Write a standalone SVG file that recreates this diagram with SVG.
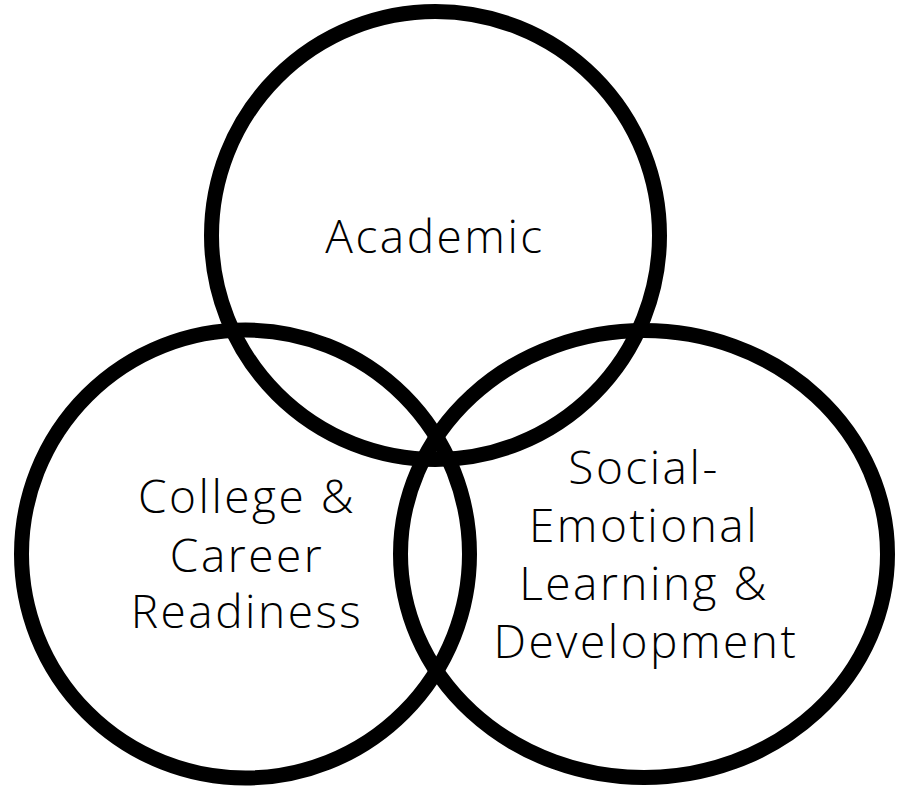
<svg xmlns="http://www.w3.org/2000/svg" width="903" height="787" viewBox="0 0 903 787">
<style>
.ring{fill:none;stroke:#000;stroke-width:15}
.lbl{font-family:"Open Sans","Liberation Sans",sans-serif;font-weight:300;font-size:46px;letter-spacing:2.5px;fill:#000;text-anchor:middle}
</style>
<rect width="903" height="787" fill="#fff"/>
<g id="academic">
<circle class="ring" cx="435.5" cy="235.5" r="224"/>
<text class="lbl" x="435" y="253">Academic</text>
</g>
<g id="college">
<circle class="ring" cx="245.5" cy="554" r="224"/>
<text class="lbl" x="247" y="513">College &amp;</text>
<text class="lbl" x="247" y="572">Career</text>
<text class="lbl" x="247" y="628">Readiness</text>
</g>
<g id="social">
<ellipse class="ring" cx="644" cy="554" rx="243.5" ry="223.5"/>
<text class="lbl" x="644" y="484">Social-</text>
<text class="lbl" x="644" y="542">Emotional</text>
<text class="lbl" x="644" y="600">Learning &amp;</text>
<text class="lbl" x="646" y="658">Development</text>
</g>
<g id="connectors"/>
</svg>
